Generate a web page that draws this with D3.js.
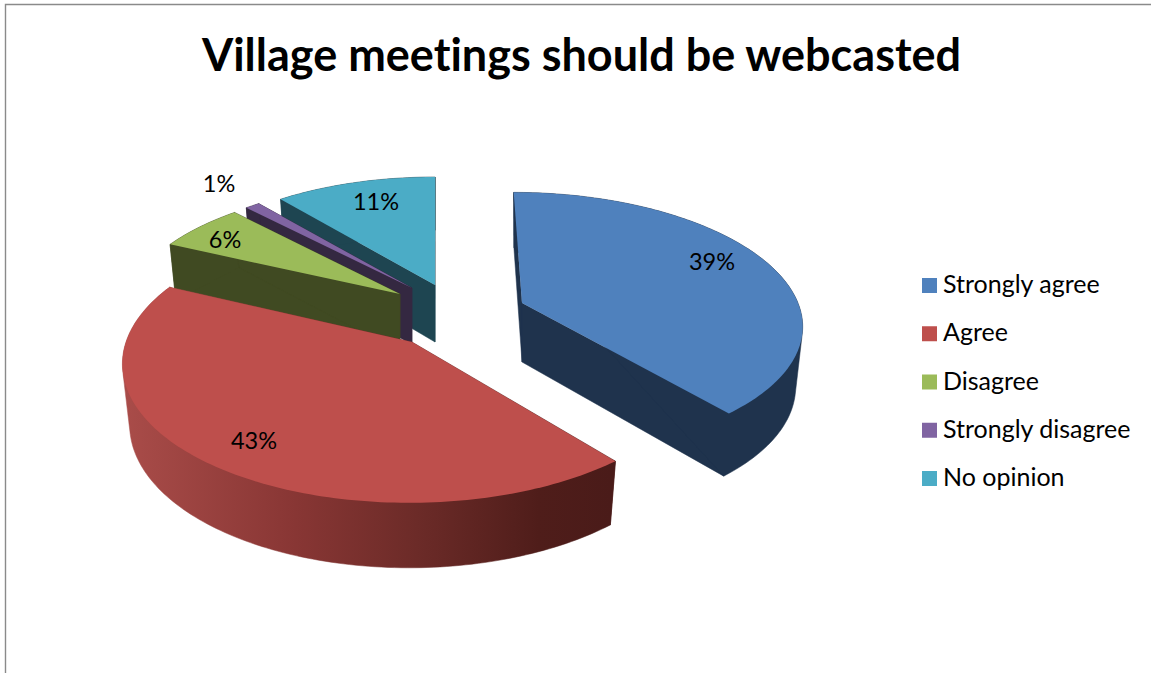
<!DOCTYPE html>
<html>
<head>
<meta charset="utf-8">
<script src="https://cdn.jsdelivr.net/npm/d3@7/dist/d3.min.js"></script>
<style>
html,body{margin:0;padding:0;background:#fff;overflow:hidden}
svg{display:block}
text{font-family:Lato,"Noto Sans",sans-serif;fill:#000;font-variant-ligatures:none;font-feature-settings:"liga" 0}
</style>
</head>
<body>
<svg id="c" width="1151" height="673"></svg>
<script>
// data
const title = "Village meetings should be webcasted";
const categories = ["Strongly agree","Agree","Disagree","Strongly disagree","No opinion"];
const values = [39,43,6,1,11];
const labels = ["39%","43%","6%","1%","11%"];
const topColors = ["#4f81bd","#be4f4c","#9bbb59","#8064a2","#4bacc6"];
const sideColors = ["#1f334d","#6e2c29","#404a22","#342841","#1e4551"];

// layout of each exploded slice (apex, ellipse radii, depth)
const apexX = [522,412,400,412,435];
const apexY = [303,342,294,288,285];
const radX  = [276,286,272,271,270];
const radY  = [127,137,124,122,124];
const depth = [59,60,58,56,57];
const labelX = [712,254,225,219,376];
const labelY = [262,441,240,184,202];
const K = 0.148, VX = 436, LEAN = 0.75, SHRINK = 0.975;

const svg = d3.select("#c");
const W = 1151, H = 673;

svg.append("rect").attr("width",W).attr("height",H).attr("fill","#fff");
svg.append("path").attr("d","M5.5,673V4.5H1151").attr("fill","none").attr("stroke","#8a8a8a").attr("stroke-width",1.4);

const defs = svg.append("defs");
const g = defs.append("linearGradient").attr("id","redSide").attr("gradientUnits","userSpaceOnUse")
  .attr("x1",125).attr("x2",612).attr("y1",0).attr("y2",0);
[[0,"#a94c49"],[0.35,"#883634"],[0.6,"#6c2b28"],[0.85,"#4f1d1a"],[1,"#4a1b19"]]
  .forEach(s=>g.append("stop").attr("offset",s[0]).attr("stop-color",s[1]));

const arcs = d3.pie().sort(null).startAngle(0).endAngle(2*Math.PI)(values);
const line = d3.line().x(d=>d[0]).y(d=>d[1]);

function project(i, theta, r, z){
  const u = r*Math.sin(theta), v = r*Math.cos(theta);
  const w = 1 + K*v;
  const off = (apexX[i]-VX)*LEAN;
  let dx = (off + radX[i]*u)/w - off;
  let dy = -radY[i]*v/w;
  if(z){
    dx *= SHRINK;
    dy = dy + depth[i]/Math.sqrt(w);
  }
  return [apexX[i]+dx, apexY[i]+dy];
}
function arcPts(i, a, z){
  const n = Math.max(4, Math.ceil((a.endAngle-a.startAngle)/0.02));
  return d3.range(n+1).map(k=>project(i, a.startAngle+(a.endAngle-a.startAngle)*k/n, 1, z));
}

// painter order: back slices first, the big red slice last
const order = [4,3,2,0,1];
const pie = svg.append("g");
order.forEach(i=>{
  const a = arcs[i];
  const side = i===1 ? "url(#redSide)" : sideColors[i];
  const c0 = project(i,0,0,0), c1 = project(i,0,0,1);
  const top = arcPts(i,a,0), bot = arcPts(i,a,1);
  const sl = pie.append("g");
  // radial faces
  [[top[0],bot[0]],[top[top.length-1],bot[bot.length-1]]].forEach(e=>{
    sl.append("path").attr("d",line([c0,e[0],e[1],c1])+"Z").attr("fill",side)
      .attr("stroke",side).attr("stroke-width",0.5);
  });
  // outer rim: hull of both arcs gives the true silhouette
  sl.append("path").attr("d",line(d3.polygonHull(top.concat(bot)))+"Z").attr("fill",side)
    .attr("stroke",side).attr("stroke-width",0.5);
  // top
  sl.append("path").attr("d",line([c0].concat(top))+"Z").attr("fill",topColors[i]);
});

// data labels
svg.append("g").selectAll("text").data(labels).join("text")
  .attr("x",(d,i)=>labelX[i]).attr("y",(d,i)=>labelY[i]+8)
  .attr("text-anchor","middle").attr("font-size",23.5).text(d=>d);

// title
svg.append("text").attr("x",581.5).attr("y",71).attr("text-anchor","middle")
  .attr("font-size",45).attr("font-weight",700).text(title);

// legend
const legY = d3.scalePoint().domain(categories).range([285.5,478.5]);
const leg = svg.append("g").selectAll("g").data(categories).join("g")
  .attr("transform",d=>`translate(0,${legY(d)})`);
leg.append("rect").attr("x",922).attr("y",-7.5).attr("width",15).attr("height",15)
  .attr("fill",(d,i)=>topColors[i]);
leg.append("text").attr("x",943).attr("y",7.5).attr("font-size",25).text(d=>d);
</script>
</body>
</html>
